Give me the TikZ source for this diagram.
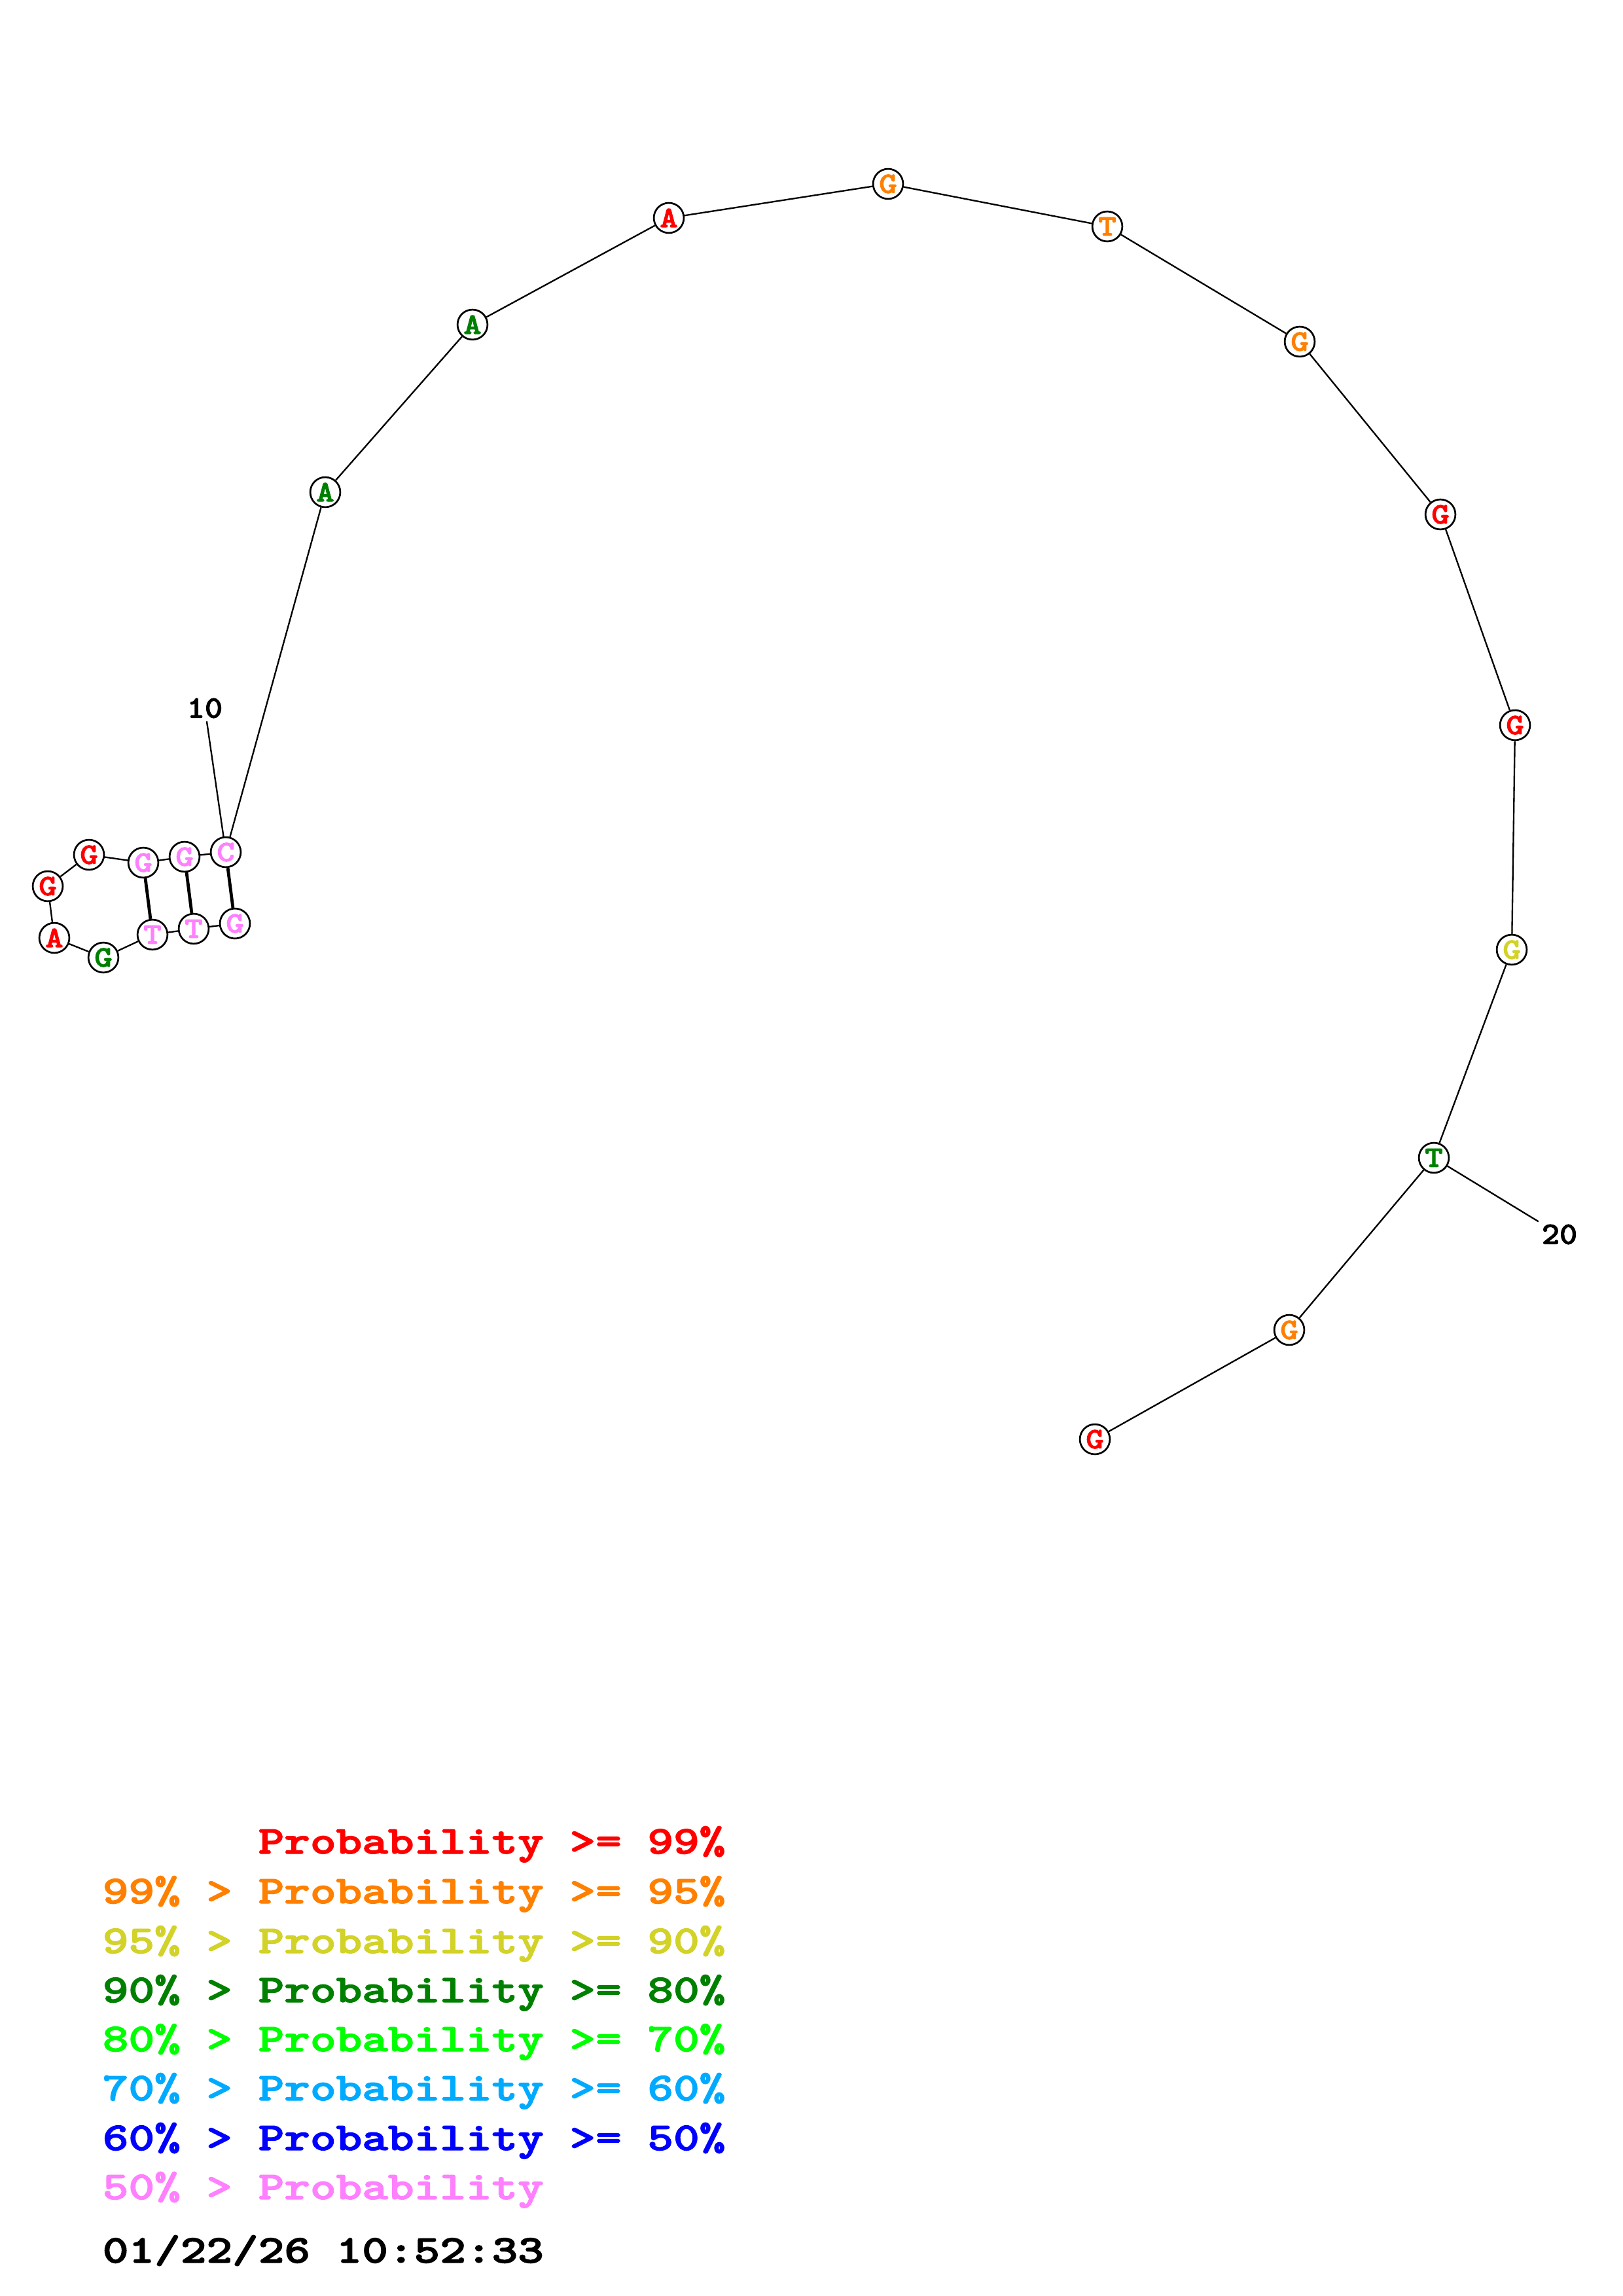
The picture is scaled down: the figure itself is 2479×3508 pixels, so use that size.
\documentclass[tikz,border=0pt]{standalone}
\usepackage{graphicx}
\usepackage{fontspec}
\newfontfamily\cb{lmmonolt10-bold.otf}[FakeBold=2]
\definecolor{cR}{RGB}{255,0,0}
\definecolor{cO}{RGB}{255,128,0}
\definecolor{cY}{RGB}{210,210,40}
\definecolor{cDG}{RGB}{0,128,0}
\definecolor{cG}{RGB}{0,255,0}
\definecolor{cLB}{RGB}{0,170,255}
\definecolor{cB}{RGB}{0,0,255}
\definecolor{cP}{RGB}{255,128,255}
\newcommand{\nuctxt}[1]{\scalebox{1.15}[1]{#1}}
\newcommand{\legtxt}[1]{\scalebox{1.25}[1]{#1}}
\begin{document}
\begin{tikzpicture}[x=0.24pt,y=-0.24pt,
  nt/.style={circle,draw,line width=0.65pt,fill=white,minimum size=11pt,inner sep=0pt,
    font=\cb\fontsize{10.9}{10.9}\selectfont},
  lbl/.style={inner sep=1pt,font=\cb\fontsize{11.5}{11.5}\selectfont},
  leg/.style={anchor=base west,inner sep=0pt,font=\cb\fontsize{14.5}{16}\selectfont},
  bb/.style={line width=0.56pt},
  bp/.style={line width=1.15pt}]
\useasboundingbox[fill=white] (0,0) rectangle (2479,3508);
% nucleotides
\node[nt,text=cP]  (n1)  at (359,1411) {\nuctxt{G}};
\node[nt,text=cP]  (n2)  at (296,1419) {\nuctxt{T}};
\node[nt,text=cP]  (n3)  at (233,1428) {\nuctxt{T}};
\node[nt,text=cDG] (n4)  at (158,1463) {\nuctxt{G}};
\node[nt,text=cR]  (n5)  at (83,1433)  {\nuctxt{A}};
\node[nt,text=cR]  (n6)  at (73,1354)  {\nuctxt{G}};
\node[nt,text=cR]  (n7)  at (136,1306) {\nuctxt{G}};
\node[nt,text=cP]  (n8)  at (219,1318) {\nuctxt{G}};
\node[nt,text=cP]  (n9)  at (282,1309) {\nuctxt{G}};
\node[nt,text=cP]  (n10) at (345,1302) {\nuctxt{C}};
\node[nt,text=cDG] (n11) at (497,752)  {\nuctxt{A}};
\node[nt,text=cDG] (n12) at (722,496)  {\nuctxt{A}};
\node[nt,text=cR]  (n13) at (1022,333) {\nuctxt{A}};
\node[nt,text=cO]  (n14) at (1357,281) {\nuctxt{G}};
\node[nt,text=cO]  (n15) at (1692,346) {\nuctxt{T}};
\node[nt,text=cO]  (n16) at (1986,522) {\nuctxt{G}};
\node[nt,text=cR]  (n17) at (2201,786) {\nuctxt{G}};
\node[nt,text=cR]  (n18) at (2315,1108) {\nuctxt{G}};
\node[nt,text=cY]  (n19) at (2310,1451) {\nuctxt{G}};
\node[nt,text=cDG] (n20) at (2191,1769) {\nuctxt{T}};
\node[nt,text=cO]  (n21) at (1970,2032) {\nuctxt{G}};
\node[nt,text=cR]  (n22) at (1673,2199) {\nuctxt{G}};
% backbone
\foreach \a/\b in {1/2,2/3,3/4,4/5,5/6,6/7,7/8,8/9,9/10,10/11,11/12,12/13,13/14,14/15,15/16,16/17,17/18,18/19,19/20,20/21,21/22}
  \draw[bb] (n\a) -- (n\b);
% base pairs
\draw[bp] (n8) -- (n3);
\draw[bp] (n9) -- (n2);
\draw[bp] (n10) -- (n1);
% position labels
\node[lbl] (l10) at (313,1082) {\scalebox{1.08}[1]{10}};
\node[lbl] (l20) at (2383,1886) {\scalebox{1.08}[1]{20}};
\draw[bb] (l10) -- (n10);
\draw[bb] (l20) -- (n20);
% legend
\node[leg,text=cR]  (g1) at (156,2832) {\legtxt{\phantom{99\% > }Probability >= 99\%}};
\node[leg,text=cO]  (g2) at (156,2908) {\legtxt{99\% > Probability >= 95\%}};
\node[leg,text=cY]  (g3) at (156,2984) {\legtxt{95\% > Probability >= 90\%}};
\node[leg,text=cDG] (g4) at (156,3059) {\legtxt{90\% > Probability >= 80\%}};
\node[leg,text=cG]  (g5) at (156,3134) {\legtxt{80\% > Probability >= 70\%}};
\node[leg,text=cLB] (g6) at (156,3209) {\legtxt{70\% > Probability >= 60\%}};
\node[leg,text=cB]  (g7) at (156,3285) {\legtxt{60\% > Probability >= 50\%}};
\node[leg,text=cP]  (g8) at (156,3360) {\legtxt{50\% > Probability}};
\node[leg,text=black] (gd) at (156,3457) {\legtxt{01/22/26 10:52:33}};
\end{tikzpicture}
\end{document}
